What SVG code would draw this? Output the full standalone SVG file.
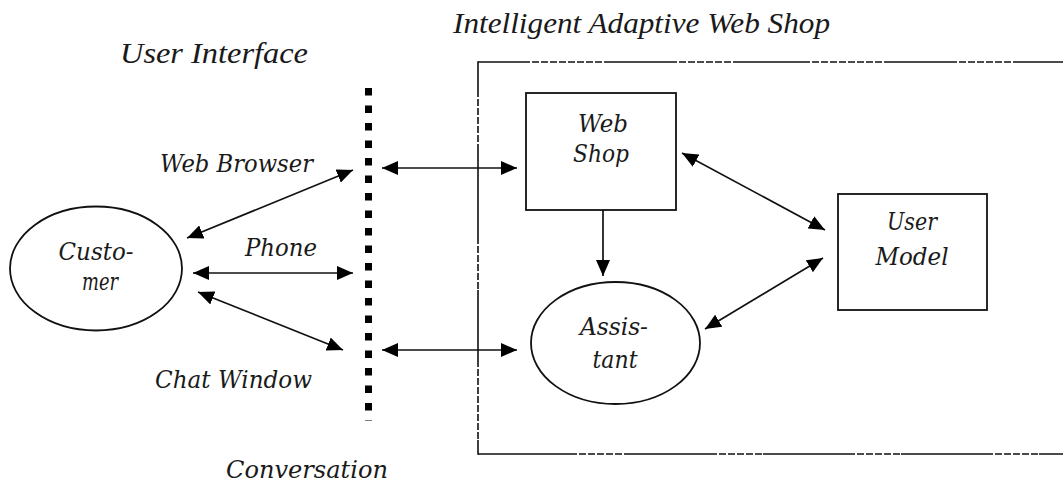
<svg xmlns="http://www.w3.org/2000/svg" width="1063" height="489" viewBox="0 0 1063 489">
  <style>
    .bg { fill: #ffffff; }
    .lbl { font-family: "DejaVu Serif", "Liberation Serif", serif; font-style: italic; font-size: 24px; fill: #1a1a1a; }
    .ttl { font-family: "Liberation Serif", "DejaVu Serif", serif; font-style: italic; font-size: 30px; fill: #1a1a1a; }
    .shape { fill: none; stroke: #111; stroke-width: 1.8; }
    .frame { fill: none; stroke: #111; stroke-width: 1.6; }
    .frame-dash { fill: none; stroke: #111; stroke-width: 1.6; stroke-dasharray: 7 2; }
    .conn { fill: none; stroke: #111; stroke-width: 1.7; marker-start: url(#arrow); marker-end: url(#arrow); }
    .conn-one { fill: none; stroke: #111; stroke-width: 1.7; marker-end: url(#arrow); }
    .ui-line { fill: none; stroke: #000; stroke-width: 7; stroke-dasharray: 7.5 10; }
  </style>
  <defs>
    <marker id="arrow" markerUnits="userSpaceOnUse" markerWidth="17" markerHeight="14" refX="16" refY="7" orient="auto-start-reverse">
      <path d="M0,0 L16,7 L0,14 z" fill="#000"/>
    </marker>
  </defs>

  <rect class="bg" x="0" y="0" width="1063" height="489"/>

  <!-- headings -->
  <text class="ttl" x="453" y="33" textLength="377" lengthAdjust="spacingAndGlyphs">Intelligent Adaptive Web Shop</text>
  <text class="ttl" x="120" y="63" textLength="188" lengthAdjust="spacingAndGlyphs">User Interface</text>
  <text class="lbl" x="226" y="478" textLength="162" lengthAdjust="spacingAndGlyphs">Conversation</text>

  <!-- shop boundary: solid runs alternating with finely dashed runs -->
  <g id="shop-frame">
    <path class="frame" d="M478,62 H523 M608,62 H670 M738,62 H803 M888,62 H950 M1016,62 H1063"/>
    <path class="frame-dash" d="M523,62 H608 M670,62 H738 M803,62 H888 M950,62 H1016"/>
    <path class="frame" d="M478,454 H570 M625,454 H710 M763,454 H848 M901,454 H986 M1039,454 H1063"/>
    <path class="frame-dash" d="M570,454 H625 M710,454 H763 M848,454 H901 M986,454 H1039"/>
    <path class="frame" d="M478,61.2 V90 M478,150 V237 M478,290 V360 M478,440 V454.8"/>
    <path class="frame-dash" d="M478,90 V150 M478,237 V290 M478,360 V440"/>
  </g>

  <!-- user interface boundary -->
  <g id="user-interface">
    <line class="ui-line" x1="368.5" y1="88" x2="368.5" y2="421"/>
  </g>

  <!-- channel labels -->
  <text class="lbl" x="160" y="172" textLength="153" lengthAdjust="spacingAndGlyphs">Web Browser</text>
  <text class="lbl" x="245" y="256" textLength="72" lengthAdjust="spacingAndGlyphs">Phone</text>
  <text class="lbl" x="155" y="388" textLength="157" lengthAdjust="spacingAndGlyphs">Chat Window</text>

  <g id="customer">
    <ellipse class="shape" cx="96" cy="268.5" rx="86" ry="62"/>
    <text class="lbl" x="96" y="260" text-anchor="middle" textLength="75" lengthAdjust="spacingAndGlyphs">Custo-</text>
    <text class="lbl" x="100" y="290" text-anchor="middle" textLength="36" lengthAdjust="spacingAndGlyphs">mer</text>
  </g>

  <g id="web-shop">
    <rect class="shape" x="526" y="93" width="150" height="117"/>
    <text class="lbl" x="603" y="132" text-anchor="middle" textLength="50" lengthAdjust="spacingAndGlyphs">Web</text>
    <text class="lbl" x="601" y="162" text-anchor="middle" textLength="56" lengthAdjust="spacingAndGlyphs">Shop</text>
  </g>

  <g id="assistant">
    <ellipse class="shape" cx="615.5" cy="343" rx="84.5" ry="61"/>
    <text class="lbl" x="614" y="335" text-anchor="middle" textLength="68" lengthAdjust="spacingAndGlyphs">Assis-</text>
    <text class="lbl" x="615" y="368" text-anchor="middle" textLength="45" lengthAdjust="spacingAndGlyphs">tant</text>
  </g>

  <g id="user-model">
    <rect class="shape" x="838" y="194" width="149" height="116"/>
    <text class="lbl" x="912" y="230" text-anchor="middle" textLength="50" lengthAdjust="spacingAndGlyphs">User</text>
    <text class="lbl" x="912" y="265" text-anchor="middle" textLength="73" lengthAdjust="spacingAndGlyphs">Model</text>
  </g>

  <g id="connectors">
    <line class="conn" x1="187" y1="238" x2="353" y2="170"/>
    <line class="conn" x1="193" y1="273" x2="353" y2="273"/>
    <line class="conn" x1="198" y1="292" x2="343" y2="350"/>
    <line class="conn" x1="382" y1="168" x2="517" y2="168"/>
    <line class="conn" x1="382" y1="350" x2="517" y2="350"/>
    <line class="conn-one" x1="603" y1="210" x2="603" y2="276"/>
    <line class="conn" x1="682" y1="153" x2="825" y2="230"/>
    <line class="conn" x1="705" y1="329" x2="823" y2="258"/>
  </g>
</svg>
